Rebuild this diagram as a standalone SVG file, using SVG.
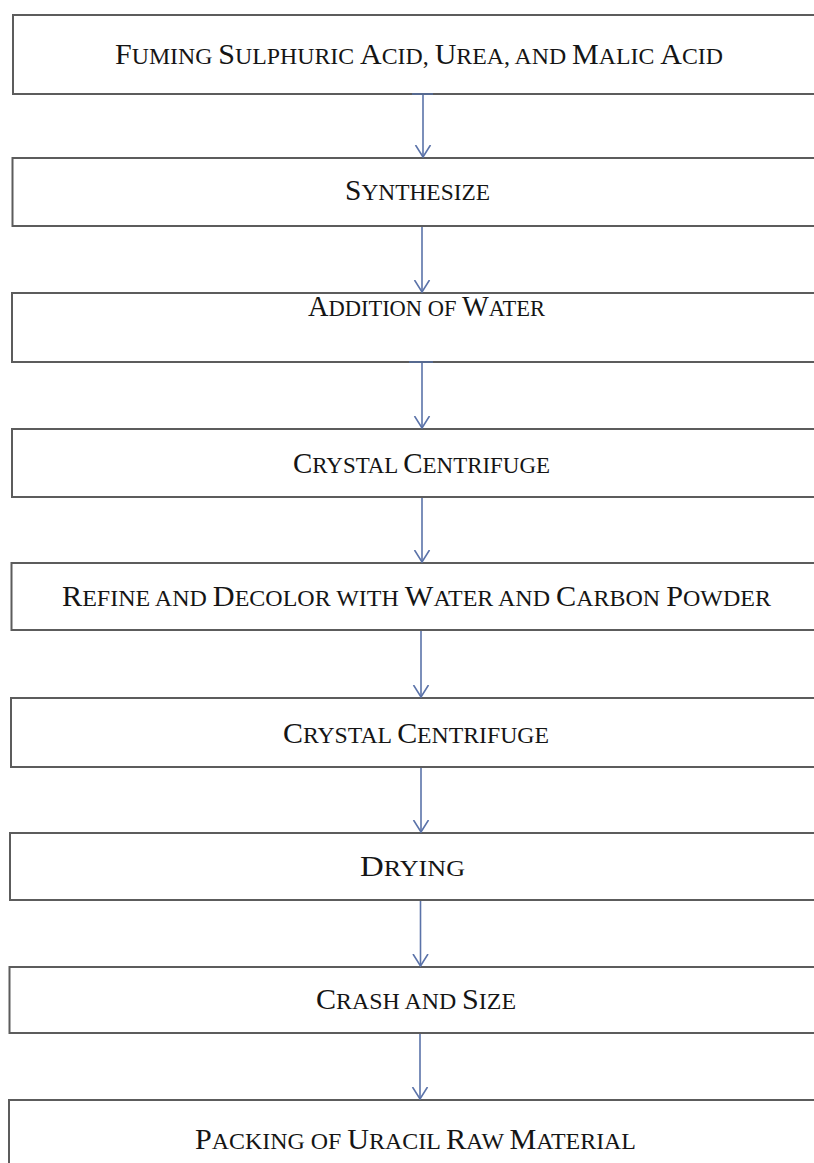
<svg xmlns="http://www.w3.org/2000/svg" width="814" height="1163" viewBox="0 0 814 1163">
<defs>
<style>
.box{fill:#ffffff;stroke:#5c5c5c;stroke-width:2}
.lbl{font-family:"Liberation Serif","Times New Roman",serif;font-size:23px;fill:#151515}
.b{font-size:29px}
.conn{stroke:#5b73a9;stroke-width:1.6;fill:none}
.bar{stroke:#56698f;stroke-width:2}
</style>
<marker id="ah" viewBox="0 -9 13 18" refX="12" refY="0" markerWidth="13" markerHeight="18" markerUnits="userSpaceOnUse" orient="auto">
<path d="M0,-7.5 L12,0 L0,7.5" fill="none" stroke="#5b73a9" stroke-width="1.6"/>
</marker>
</defs>
<rect width="814" height="1163" fill="#ffffff"/>
<g id="n1"><rect class="box" x="13" y="15" width="830" height="79"/><text class="lbl" x="115" y="64" textLength="608" lengthAdjust="spacingAndGlyphs"><tspan class="b">F</tspan>UMING <tspan class="b">S</tspan>ULPHURIC <tspan class="b">A</tspan>CID, <tspan class="b">U</tspan>REA, AND <tspan class="b">M</tspan>ALIC <tspan class="b">A</tspan>CID</text></g>
<g id="n2"><rect class="box" x="12.5" y="158" width="830" height="68"/><text class="lbl" x="345" y="200" textLength="145" lengthAdjust="spacingAndGlyphs"><tspan class="b">S</tspan>YNTHESIZE</text></g>
<g id="n3"><rect class="box" x="12" y="293" width="830" height="69"/><text class="lbl" x="308" y="316" textLength="237" lengthAdjust="spacingAndGlyphs"><tspan class="b">A</tspan>DDITION OF <tspan class="b">W</tspan>ATER</text></g>
<g id="n4"><rect class="box" x="12" y="429" width="830" height="68"/><text class="lbl" x="293" y="473" textLength="257" lengthAdjust="spacingAndGlyphs"><tspan class="b">C</tspan>RYSTAL <tspan class="b">C</tspan>ENTRIFUGE</text></g>
<g id="n5"><rect class="box" x="11.5" y="563" width="830" height="67"/><text class="lbl" x="62" y="606" textLength="709" lengthAdjust="spacingAndGlyphs"><tspan class="b">R</tspan>EFINE AND <tspan class="b">D</tspan>ECOLOR WITH <tspan class="b">W</tspan>ATER AND <tspan class="b">C</tspan>ARBON <tspan class="b">P</tspan>OWDER</text></g>
<g id="n6"><rect class="box" x="11" y="698" width="830" height="69"/><text class="lbl" x="283" y="743" textLength="266" lengthAdjust="spacingAndGlyphs"><tspan class="b">C</tspan>RYSTAL <tspan class="b">C</tspan>ENTRIFUGE</text></g>
<g id="n7"><rect class="box" x="10" y="833" width="830" height="67"/><text class="lbl" x="360" y="876" textLength="105" lengthAdjust="spacingAndGlyphs"><tspan class="b">D</tspan>RYING</text></g>
<g id="n8"><rect class="box" x="9.5" y="967" width="830" height="66"/><text class="lbl" x="316" y="1009" textLength="200" lengthAdjust="spacingAndGlyphs"><tspan class="b">C</tspan>RASH AND <tspan class="b">S</tspan>IZE</text></g>
<g id="n9"><rect class="box" x="9" y="1100" width="830" height="100"/><text class="lbl" x="195" y="1149" textLength="441" lengthAdjust="spacingAndGlyphs"><tspan class="b">P</tspan>ACKING OF <tspan class="b">U</tspan>RACIL <tspan class="b">R</tspan>AW <tspan class="b">M</tspan>ATERIAL</text></g>
<g id="connectors">
<line class="bar" x1="412" y1="94" x2="433" y2="94"/>
<line class="bar" x1="409" y1="362" x2="433" y2="362"/>
<line class="conn" x1="423" y1="95" x2="423" y2="157" marker-end="url(#ah)"/>
<line class="conn" x1="422" y1="227" x2="422" y2="292" marker-end="url(#ah)"/>
<line class="conn" x1="422" y1="363" x2="422" y2="428" marker-end="url(#ah)"/>
<line class="conn" x1="422" y1="498" x2="422" y2="562" marker-end="url(#ah)"/>
<line class="conn" x1="421" y1="631" x2="421" y2="697" marker-end="url(#ah)"/>
<line class="conn" x1="421" y1="768" x2="421" y2="832" marker-end="url(#ah)"/>
<line class="conn" x1="420.5" y1="901" x2="420.5" y2="966" marker-end="url(#ah)"/>
<line class="conn" x1="420" y1="1034" x2="420" y2="1099" marker-end="url(#ah)"/>
</g>
</svg>
